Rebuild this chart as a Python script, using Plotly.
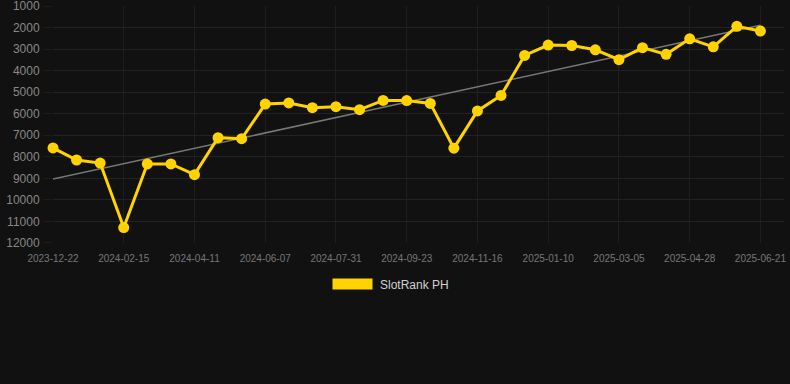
import numpy as np
import plotly.graph_objects as go

dates = ["2023-12-22", "2024-01-09", "2024-01-28", "2024-02-15", "2024-03-04", "2024-03-23",
         "2024-04-11", "2024-04-30", "2024-05-19", "2024-06-07", "2024-06-25", "2024-07-13",
         "2024-07-31", "2024-08-18", "2024-09-05", "2024-09-23", "2024-10-11", "2024-10-29",
         "2024-11-16", "2024-12-04", "2024-12-22", "2025-01-10", "2025-01-28", "2025-02-15",
         "2025-03-05", "2025-03-23", "2025-04-10", "2025-04-28", "2025-05-16", "2025-06-03",
         "2025-06-21"]
rank = [7590, 8150, 8290, 11290, 8330, 8330, 8830, 7110, 7160, 5550, 5500, 5720, 5670, 5810,
        5380, 5390, 5520, 7600, 5870, 5150, 3290, 2810, 2830, 3030, 3490, 2930, 3240, 2520,
        2890, 1940, 2160]
tick_labels = dates[::3]
y_ticks = [1000, 2000, 3000, 4000, 5000, 6000, 7000, 8000, 9000, 10000, 11000, 12000]
y_tick_labels = [str(v) for v in y_ticks]
series_name = "SlotRank PH"

idx = np.arange(len(rank))
slope, intercept = np.polyfit(idx, rank, 1)
trend = slope * idx + intercept

fig = go.Figure()
fig.add_trace(go.Scatter(x=idx, y=trend, mode="lines",
                         line=dict(color="#777777", width=1.5), hoverinfo="skip",
                         showlegend=False))
fig.add_trace(go.Scatter(x=idx, y=rank, mode="lines+markers", name=series_name,
                         line=dict(color="#FFD300", width=3),
                         marker=dict(size=11, color="#FFD300"), showlegend=False,
                         cliponaxis=False))

fig.update_layout(
    width=790, height=384,
    margin=dict(l=53, r=6, t=6, b=141),
    paper_bgcolor="#111111", plot_bgcolor="#111111",
    font=dict(family="Liberation Sans, Arial, sans-serif"),
    xaxis=dict(range=[0, len(rank)], tickmode="array",
               tickvals=idx[::3], ticktext=tick_labels,
               tickfont=dict(size=10, color="#777777"),
               showgrid=True, gridcolor="#1e1e1e", zeroline=False,
               showline=False, ticks="", ticklabelstandoff=8,
               ticklabeloverflow="allow", automargin=False),
    yaxis=dict(range=[12006, 994], tickmode="array", tickvals=y_ticks,
               ticktext=y_tick_labels,
               tickfont=dict(size=12, color="#888888"),
               showgrid=True, gridcolor="#222222", zeroline=False,
               showline=False, ticks="outside", ticklen=9, tickcolor="#1c1c1c",
               ticklabelstandoff=1, ticklabeloverflow="allow", automargin=False),
    shapes=[dict(type="rect", xref="paper", yref="paper",
                 x0=(332.5 - 53) / 731, x1=(372.5 - 53) / 731,
                 y0=(243 - 289.5) / 237, y1=(243 - 278.5) / 237,
                 fillcolor="#FFD300", line=dict(width=0))],
    annotations=[dict(text=series_name, xref="paper", yref="paper",
                      x=(378 - 53) / 731, y=(243 - 284.5) / 237,
                      xanchor="left", yanchor="middle", showarrow=False,
                      font=dict(size=12, color="#d0d0d0"))],
)

fig.write_html("out.html", config={"displayModeBar": False},
               post_script="document.body.style.margin='0';document.body.style.background='#111111';")
